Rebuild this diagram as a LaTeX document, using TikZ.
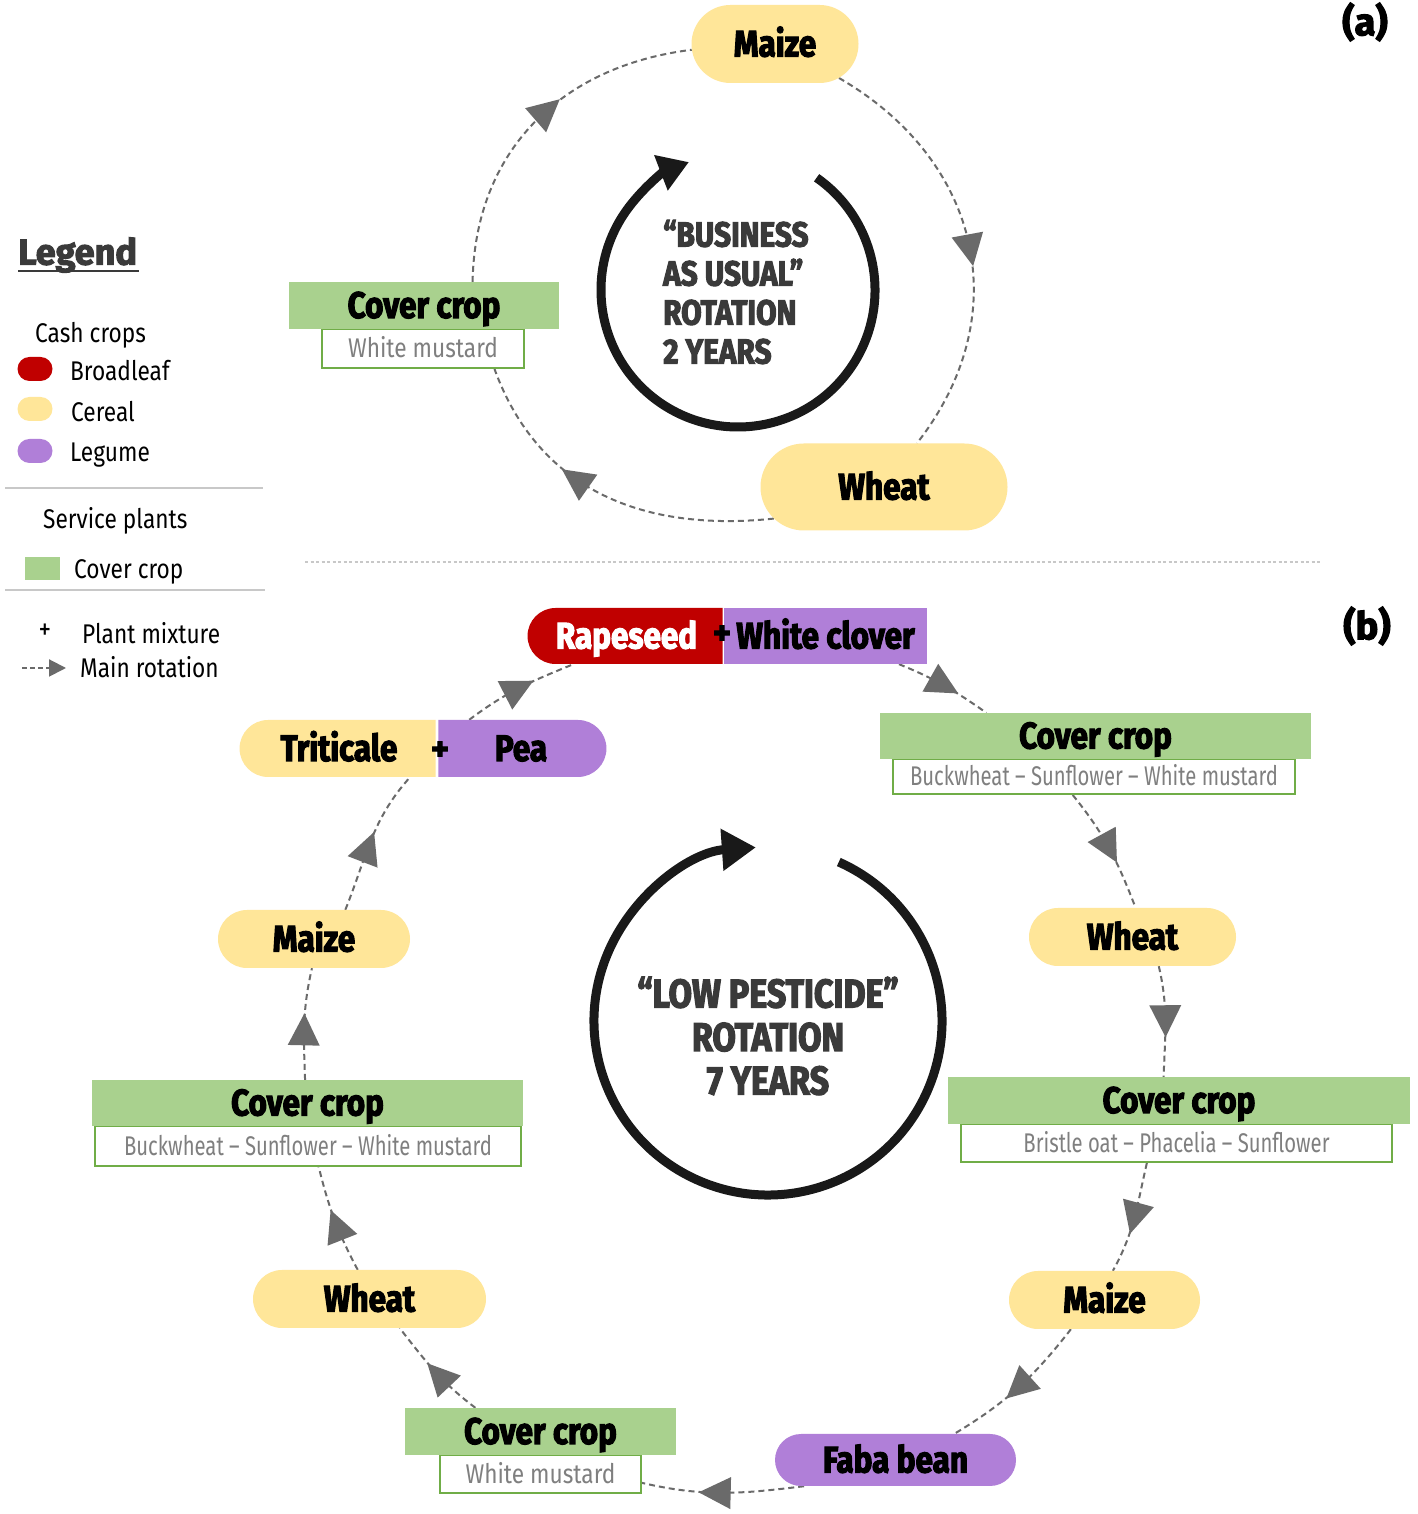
\documentclass[tikz,border=0pt]{standalone}
\usepackage{fontspec}
\setmainfont{Fira Sans}
\newfontfamily\hv{Fira Sans}[FakeStretch=0.85, BoldFeatures={FakeBold=3}]
\newfontfamily\hvw{Fira Sans}[BoldFeatures={FakeBold=3}]
\newfontfamily\nr{Fira Sans}[FakeStretch=0.84]
\newfontfamily\nrn{Fira Sans}[FakeStretch=0.75]
\usetikzlibrary{shapes.misc,arrows.meta,decorations.markings}
\definecolor{cer}{HTML}{FFE699}
\definecolor{brd}{HTML}{C00000}
\definecolor{leg}{HTML}{B07FD8}
\definecolor{cov}{HTML}{A9D18E}
\definecolor{covb}{HTML}{70AD47}
\definecolor{subt}{HTML}{7F7F7F}
\definecolor{agray}{HTML}{6A6A6A}
\definecolor{lgray}{HTML}{C8C8C8}
\definecolor{ctext}{HTML}{3A3A3A}
\pgfdeclarelayer{bg}
\pgfsetlayers{bg,main}
\tikzset{
  heavy/.style={font=\hv\bfseries\fontsize{37}{40}\selectfont, text height=25pt, text depth=0pt},
  pill/.style={rounded rectangle, inner sep=0pt, heavy},
  cereal/.style={pill, fill=cer},
  legume/.style={pill, fill=leg},
  covhead/.style={rectangle, inner sep=0pt, fill=cov, heavy},
  covsub/.style={rectangle, inner sep=0pt, fill=white, draw=covb, line width=2pt, text=subt,
    font=\nr\fontsize{27}{30}\selectfont, text height=19pt, text depth=0pt},
  covsubn/.style={covsub, font=\nrn\fontsize{27}{30}\selectfont},
  plusnode/.style={inner sep=0pt, font=\hvw\bfseries\fontsize{34}{34}\selectfont},
  rotline/.style={draw=agray, line width=2pt, dash pattern=on 6pt off 4pt},
  rot/.style={rotline, postaction={decorate},
    decoration={markings, mark=at position #1 with {\fill[agray] (16pt,0pt) -- (-16pt,16pt) -- (-16pt,-16pt) -- cycle;}}},
  rot/.default=0.5,
  ltext/.style={anchor=west, inner sep=0pt, font=\nr\fontsize{27}{30}\selectfont, text height=19pt, text depth=0pt},
  chip/.style={rounded rectangle, inner sep=0pt, minimum width=35pt, minimum height=24pt},
  bigarrow/.style={line width=9pt, color=black!90},
  centertext/.style={inner sep=0pt, text=ctext, font=\hv\bfseries\fontsize{35}{39}\selectfont},
  tag/.style={inner sep=0pt, font=\hvw\bfseries\fontsize{38}{40}\selectfont}
}
\begin{document}
\begin{tikzpicture}[x=1pt,y=1pt]
\useasboundingbox (0,0) rectangle (1417,1514);
\begin{pgfonlayer}{bg}
\fill[white] (0,0) rectangle (1417,1514);
\end{pgfonlayer}

% ---------------- Legend ----------------
\node[anchor=west, inner sep=0pt, text=ctext, font=\hvw\bfseries\fontsize{36}{40}\selectfont] (lgtitle) at (18,1259) {Legend};
\draw[ctext, line width=2.5pt] (18,1243) -- (139,1243);
\node[ltext] (lcash) at (35,1181) {Cash crops};
\node[chip, fill=brd] (lbr) at (35,1145) {};
\node[ltext] (lbrt) at (70,1143) {Broadleaf};
\node[chip, fill=cer] (lce) at (35,1105) {};
\node[ltext] (lcet) at (71,1102) {Cereal};
\node[chip, fill=leg] (lle) at (35,1063) {};
\node[ltext] (llet) at (70,1062) {Legume};
\draw[lgray, line width=1.5pt] (5,1026) -- (263,1026);
\node[ltext] (lserv) at (43,995) {Service plants};
\node[rectangle, fill=cov, minimum width=35pt, minimum height=23pt, inner sep=0pt] (lcov) at (42.5,945) {};
\node[ltext] (lcovt) at (74,945) {Cover crop};
\draw[lgray, line width=1.5pt] (5,924) -- (265,924);
\node[inner sep=0pt, font=\nr\fontsize{30}{30}\selectfont] (lplus) at (45,882) {+};
\node[ltext] (lplust) at (82,880) {Plant mixture};
\coordinate (lra) at (22,846);
\coordinate (lrb) at (66,846);
\draw[rotline, dash pattern=on 5pt off 3pt, -{Triangle[length=17pt, width=17pt, fill=agray]}] (lra) -- (lrb);
\node[ltext] (lrott) at (80,846) {Main rotation};

% ---------------- Panel labels and divider ----------------
\node[tag] (taga) at (1365,1492) {(a)};
\node[tag] (tagb) at (1367,888) {(b)};
\draw[lgray, line width=1.3pt, dash pattern=on 3pt off 2.5pt] (305,952) -- (1320,952);

% ---------------- Panel (a) ----------------
\node[cereal, minimum width=167pt, minimum height=78pt] (maizeA) at (775,1470) {Maize};
\node[covsub, minimum width=202pt, minimum height=39pt] (coverAs) at (423,1165.5) {White mustard};
\node[covhead, minimum width=270pt, minimum height=47pt] (coverA) at (424,1208.5) {Cover crop};
\node[cereal, minimum width=247pt, minimum height=87pt] (wheatA) at (884,1027) {Wheat};

\begin{pgfonlayer}{bg}
\draw[rot=0.52] (maizeA.-28) to[out=-30, in=52, looseness=1.12] (wheatA.53);
\draw[rot=0.6] (wheatA.196) to[out=-174, in=-70, looseness=1.05] (coverAs.-16);
\draw[rot=0.55] (coverA.26) to[out=89, in=187, looseness=1.05] (maizeA.184);
\end{pgfonlayer}

\coordinate (ca) at (738,1224);
\draw[bigarrow, -{Triangle[length=30pt, width=36pt]}] (ca) ++(55:137) arc[start angle=55, end angle=-249, radius=137];
\node[centertext, anchor=west, align=left] (txta) at (663,1222) {“BUSINESS\\AS USUAL”\\ROTATION\\2 YEARS};

% ---------------- Panel (b) ----------------
\node[pill, rounded rectangle right arc=none, fill=brd, text=white, minimum width=195pt, minimum height=56pt] (rwR) at (626.5,878) {Rapeseed};
\node[rectangle, fill=leg, inner sep=0pt, heavy, minimum width=203pt, minimum height=56pt] (rwP) at (825.5,878) {White clover};
\node[plusnode] (plus1) at (722,879) {+};

\node[covsubn, minimum width=402pt, minimum height=35pt] (ctrS) at (1094,737.5) {Buckwheat – Sunflower – White mustard};
\node[covhead, minimum width=431pt, minimum height=46pt] (ctrH) at (1095.5,778) {Cover crop};

\node[cereal, minimum width=207pt, minimum height=58pt] (wheatR) at (1132.5,577) {Wheat};

\node[covsubn, minimum width=431pt, minimum height=38pt] (crS) at (1176.5,371) {Bristle oat – Phacelia – Sunflower};
\node[covhead, minimum width=462pt, minimum height=47pt] (crH) at (1179,413.5) {Cover crop};

\node[cereal, minimum width=191pt, minimum height=58pt] (maizeBR) at (1104.5,214) {Maize};
\node[legume, minimum width=241pt, minimum height=52pt] (faba) at (895.5,54) {Faba bean};

\node[covsub, minimum width=201pt, minimum height=38pt] (cbS) at (540.5,40) {White mustard};
\node[covhead, minimum width=271pt, minimum height=47pt] (cbH) at (540.5,82.5) {Cover crop};

\node[cereal, minimum width=233pt, minimum height=58pt] (wheatBL) at (369.5,215) {Wheat};

\node[covsubn, minimum width=426pt, minimum height=40pt] (clS) at (308,368) {Buckwheat – Sunflower – White mustard};
\node[covhead, minimum width=431pt, minimum height=46pt] (clH) at (307.5,411) {Cover crop};

\node[cereal, minimum width=192pt, minimum height=58pt] (maizeL) at (314,575) {Maize};

\node[pill, rounded rectangle right arc=none, fill=cer, minimum width=196pt, minimum height=57pt] (triY) at (339,765.5) {Triticale};
\node[pill, rounded rectangle left arc=none, fill=leg, minimum width=168pt, minimum height=57pt] (triP) at (521,765.5) {Pea};
\node[plusnode] (plus2) at (440,763) {+};

\begin{pgfonlayer}{bg}
\draw[rot] (rwP.-21) to[out=-22, in=145] (ctrH.168);
\draw[rot] (ctrS.221) to[out=-51, in=111] (wheatR.84);
\draw[rot] (wheatR.-48) to[out=-77, in=88] (crH.123);
\draw[rot] (crS.214) to[out=-103, in=61] (maizeBR.74);
\draw[rot] (maizeBR.221) to[out=-128, in=31] (faba.24);
\draw[rot=0.55] (faba.196) to[out=-173, in=-13] (cbS.-5);
\draw[rot=0.45] (cbH.160) to[out=143, in=-52] (wheatBL.-44);
\draw[rot=0.45] (wheatBL.112) to[out=118, in=-76] (clS.-63);
\draw[rot=0.45] (clH.96) to[out=92, in=-103] (maizeL.-94);
\draw[rot=0.45] (maizeL.43) to[out=68, in=-132] (triY.-22);
\draw[rot] (triP.151) to[out=37, in=202] (rwR.208);
\end{pgfonlayer}

\coordinate (cb) at (768,493);
\draw[bigarrow, -{Triangle[length=34pt, width=40pt]}] (cb) ++(66:174) arc[start angle=66, end angle=-266, radius=174];
\node[centertext, align=center, font=\hv\bfseries\fontsize{40}{43.5}\selectfont] (txtb) at (768,478) {“LOW PESTICIDE”\\ROTATION\\7 YEARS};

\end{tikzpicture}
\end{document}
